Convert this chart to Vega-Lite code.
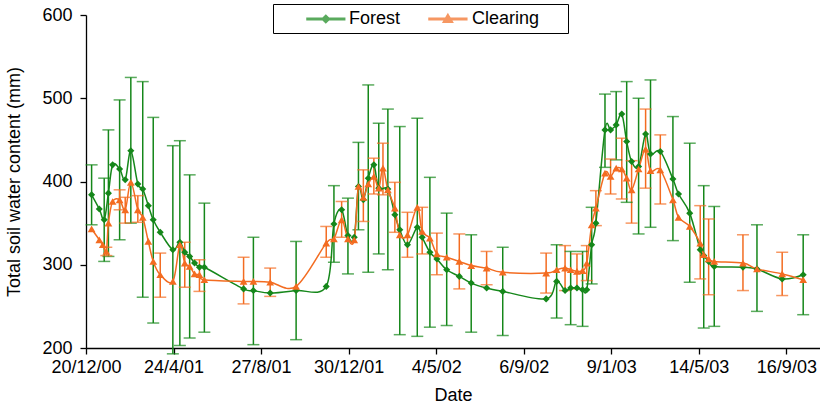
{
  "$schema": "https://vega.github.io/schema/vega-lite/v6.json",
  "width": 734,
  "height": 333,
  "autosize": {"type": "none"},
  "padding": {"left": 86, "top": 15, "right": 0, "bottom": 60},
  "background": "white",
  "config": {
    "view": {"stroke": null},
    "font": "Liberation Sans",
    "axis": {
      "domainColor": "black", "tickColor": "black", "labelColor": "black", "titleColor": "black",
      "labelFont": "Liberation Sans", "titleFont": "Liberation Sans",
      "labelFontSize": 18, "titleFontSize": 18, "titleFontWeight": "normal",
      "grid": false, "tickSize": 6, "domainWidth": 1.3, "tickWidth": 1.3
    }
  },
  "data": {"values": [
    {"date":"2000-12-28","series":"Forest","v":384,"lo":348,"hi":420},
    {"date":"2001-01-08","series":"Forest","v":367},
    {"date":"2001-01-15","series":"Forest","v":354,"lo":304,"hi":404},
    {"date":"2001-01-21","series":"Forest","v":386,"lo":310,"hi":462},
    {"date":"2001-01-27","series":"Forest","v":420},
    {"date":"2001-02-06","series":"Forest","v":415,"lo":330,"hi":498},
    {"date":"2001-02-14","series":"Forest","v":402},
    {"date":"2001-02-22","series":"Forest","v":437,"lo":350,"hi":525},
    {"date":"2001-03-04","series":"Forest","v":397},
    {"date":"2001-03-11","series":"Forest","v":391,"lo":261,"hi":520},
    {"date":"2001-03-19","series":"Forest","v":371},
    {"date":"2001-03-26","series":"Forest","v":354,"lo":230,"hi":477},
    {"date":"2001-04-05","series":"Forest","v":339},
    {"date":"2001-04-23","series":"Forest","v":318,"lo":193,"hi":443},
    {"date":"2001-05-03","series":"Forest","v":327,"lo":203,"hi":449},
    {"date":"2001-05-10","series":"Forest","v":315},
    {"date":"2001-05-17","series":"Forest","v":310,"lo":212,"hi":408},
    {"date":"2001-05-24","series":"Forest","v":302},
    {"date":"2001-05-31","series":"Forest","v":297},
    {"date":"2001-06-07","series":"Forest","v":297,"lo":219,"hi":374},
    {"date":"2001-08-02","series":"Forest","v":271},
    {"date":"2001-08-16","series":"Forest","v":269,"lo":204,"hi":333},
    {"date":"2001-09-09","series":"Forest","v":266},
    {"date":"2001-10-16","series":"Forest","v":269,"lo":210,"hi":328},
    {"date":"2001-11-28","series":"Forest","v":274},
    {"date":"2001-12-09","series":"Forest","v":349,"lo":303,"hi":395},
    {"date":"2001-12-20","series":"Forest","v":366},
    {"date":"2001-12-29","series":"Forest","v":335,"lo":289,"hi":380},
    {"date":"2002-01-07","series":"Forest","v":333},
    {"date":"2002-01-13","series":"Forest","v":394,"lo":342,"hi":447},
    {"date":"2002-01-20","series":"Forest","v":378},
    {"date":"2002-01-27","series":"Forest","v":404,"lo":291,"hi":516},
    {"date":"2002-02-04","series":"Forest","v":420},
    {"date":"2002-02-11","series":"Forest","v":392,"lo":313,"hi":470},
    {"date":"2002-02-24","series":"Forest","v":391,"lo":294,"hi":487},
    {"date":"2002-03-06","series":"Forest","v":360},
    {"date":"2002-03-13","series":"Forest","v":342,"lo":216,"hi":466},
    {"date":"2002-03-24","series":"Forest","v":324},
    {"date":"2002-04-07","series":"Forest","v":345,"lo":214,"hi":476},
    {"date":"2002-04-14","series":"Forest","v":333},
    {"date":"2002-04-25","series":"Forest","v":315,"lo":225,"hi":405},
    {"date":"2002-05-05","series":"Forest","v":307},
    {"date":"2002-05-19","series":"Forest","v":294,"lo":227,"hi":362},
    {"date":"2002-06-06","series":"Forest","v":286},
    {"date":"2002-06-23","series":"Forest","v":278,"lo":219,"hi":336},
    {"date":"2002-07-15","series":"Forest","v":272},
    {"date":"2002-08-07","series":"Forest","v":268,"lo":215,"hi":321},
    {"date":"2002-10-08","series":"Forest","v":259},
    {"date":"2002-10-23","series":"Forest","v":280,"lo":236,"hi":324},
    {"date":"2002-11-04","series":"Forest","v":269},
    {"date":"2002-11-12","series":"Forest","v":272,"lo":228,"hi":316},
    {"date":"2002-11-21","series":"Forest","v":272},
    {"date":"2002-11-29","series":"Forest","v":270,"lo":226,"hi":316},
    {"date":"2002-12-05","series":"Forest","v":270},
    {"date":"2002-12-12","series":"Forest","v":324,"lo":277,"hi":369},
    {"date":"2002-12-18","series":"Forest","v":350},
    {"date":"2002-12-31","series":"Forest","v":462,"lo":417,"hi":505},
    {"date":"2003-01-08","series":"Forest","v":462},
    {"date":"2003-01-16","series":"Forest","v":468,"lo":426,"hi":508},
    {"date":"2003-01-24","series":"Forest","v":481},
    {"date":"2003-01-31","series":"Forest","v":448,"lo":375,"hi":520},
    {"date":"2003-02-07","series":"Forest","v":424},
    {"date":"2003-02-17","series":"Forest","v":418,"lo":337,"hi":500},
    {"date":"2003-02-27","series":"Forest","v":457},
    {"date":"2003-03-06","series":"Forest","v":433,"lo":345,"hi":522},
    {"date":"2003-03-20","series":"Forest","v":436},
    {"date":"2003-04-07","series":"Forest","v":403,"lo":329,"hi":478},
    {"date":"2003-04-15","series":"Forest","v":385},
    {"date":"2003-05-01","series":"Forest","v":362,"lo":279,"hi":446},
    {"date":"2003-05-16","series":"Forest","v":318},
    {"date":"2003-05-21","series":"Forest","v":311,"lo":224,"hi":395},
    {"date":"2003-05-28","series":"Forest","v":304},
    {"date":"2003-06-05","series":"Forest","v":298,"lo":226,"hi":370},
    {"date":"2003-07-16","series":"Forest","v":297},
    {"date":"2003-08-05","series":"Forest","v":295,"lo":244,"hi":348},
    {"date":"2003-09-10","series":"Forest","v":283},
    {"date":"2003-10-10","series":"Forest","v":288,"lo":240,"hi":336},

    {"date":"2000-12-28","series":"Clearing","v":343},
    {"date":"2001-01-08","series":"Clearing","v":330},
    {"date":"2001-01-13","series":"Clearing","v":324},
    {"date":"2001-01-18","series":"Clearing","v":316,"lo":311,"hi":321},
    {"date":"2001-01-21","series":"Clearing","v":350},
    {"date":"2001-01-27","series":"Clearing","v":376},
    {"date":"2001-02-06","series":"Clearing","v":378,"lo":366,"hi":390},
    {"date":"2001-02-14","series":"Clearing","v":366,"lo":350,"hi":381},
    {"date":"2001-02-22","series":"Clearing","v":399},
    {"date":"2001-03-04","series":"Clearing","v":366,"lo":351,"hi":383},
    {"date":"2001-03-11","series":"Clearing","v":357},
    {"date":"2001-03-19","series":"Clearing","v":328},
    {"date":"2001-03-26","series":"Clearing","v":304},
    {"date":"2001-04-05","series":"Clearing","v":288,"lo":261,"hi":314},
    {"date":"2001-04-23","series":"Clearing","v":280},
    {"date":"2001-05-03","series":"Clearing","v":324},
    {"date":"2001-05-10","series":"Clearing","v":302,"lo":273,"hi":327},
    {"date":"2001-05-17","series":"Clearing","v":298},
    {"date":"2001-05-24","series":"Clearing","v":289},
    {"date":"2001-05-31","series":"Clearing","v":288,"lo":268,"hi":306},
    {"date":"2001-06-07","series":"Clearing","v":282},
    {"date":"2001-08-02","series":"Clearing","v":280,"lo":253,"hi":309},
    {"date":"2001-08-16","series":"Clearing","v":280},
    {"date":"2001-09-09","series":"Clearing","v":279,"lo":262,"hi":296},
    {"date":"2001-10-16","series":"Clearing","v":274},
    {"date":"2001-11-28","series":"Clearing","v":326,"lo":309,"hi":346},
    {"date":"2001-12-09","series":"Clearing","v":331},
    {"date":"2001-12-20","series":"Clearing","v":354,"lo":333,"hi":376},
    {"date":"2001-12-29","series":"Clearing","v":331},
    {"date":"2002-01-07","series":"Clearing","v":330},
    {"date":"2002-01-13","series":"Clearing","v":394},
    {"date":"2002-01-20","series":"Clearing","v":381,"lo":352,"hi":414},
    {"date":"2002-01-27","series":"Clearing","v":397},
    {"date":"2002-02-04","series":"Clearing","v":406,"lo":385,"hi":428},
    {"date":"2002-02-11","series":"Clearing","v":392},
    {"date":"2002-02-17","series":"Clearing","v":416,"lo":384,"hi":446},
    {"date":"2002-02-24","series":"Clearing","v":390},
    {"date":"2002-03-06","series":"Clearing","v":368,"lo":339,"hi":399},
    {"date":"2002-03-13","series":"Clearing","v":336},
    {"date":"2002-03-24","series":"Clearing","v":336,"lo":309,"hi":363},
    {"date":"2002-04-07","series":"Clearing","v":369},
    {"date":"2002-04-14","series":"Clearing","v":340,"lo":313,"hi":369},
    {"date":"2002-04-25","series":"Clearing","v":332},
    {"date":"2002-05-05","series":"Clearing","v":313,"lo":288,"hi":338},
    {"date":"2002-05-19","series":"Clearing","v":309},
    {"date":"2002-06-06","series":"Clearing","v":304,"lo":271,"hi":337},
    {"date":"2002-06-23","series":"Clearing","v":299},
    {"date":"2002-07-15","series":"Clearing","v":296,"lo":276,"hi":316},
    {"date":"2002-08-07","series":"Clearing","v":291},
    {"date":"2002-10-08","series":"Clearing","v":290,"lo":266,"hi":314},
    {"date":"2002-10-23","series":"Clearing","v":294},
    {"date":"2002-11-04","series":"Clearing","v":296,"lo":269,"hi":323},
    {"date":"2002-11-12","series":"Clearing","v":294},
    {"date":"2002-11-21","series":"Clearing","v":292,"lo":271,"hi":313},
    {"date":"2002-11-29","series":"Clearing","v":293},
    {"date":"2002-12-05","series":"Clearing","v":302,"lo":281,"hi":323},
    {"date":"2002-12-12","series":"Clearing","v":348},
    {"date":"2002-12-18","series":"Clearing","v":368,"lo":347,"hi":389},
    {"date":"2002-12-31","series":"Clearing","v":410},
    {"date":"2003-01-08","series":"Clearing","v":406,"lo":385,"hi":427},
    {"date":"2003-01-16","series":"Clearing","v":416},
    {"date":"2003-01-24","series":"Clearing","v":415,"lo":379,"hi":452},
    {"date":"2003-01-31","series":"Clearing","v":404},
    {"date":"2003-02-07","series":"Clearing","v":390,"lo":350,"hi":425},
    {"date":"2003-02-17","series":"Clearing","v":415},
    {"date":"2003-02-27","series":"Clearing","v":439,"lo":392,"hi":487},
    {"date":"2003-03-06","series":"Clearing","v":413},
    {"date":"2003-03-20","series":"Clearing","v":414,"lo":373,"hi":456},
    {"date":"2003-04-07","series":"Clearing","v":378},
    {"date":"2003-04-15","series":"Clearing","v":357},
    {"date":"2003-05-01","series":"Clearing","v":346},
    {"date":"2003-05-16","series":"Clearing","v":326,"lo":283,"hi":371},
    {"date":"2003-05-21","series":"Clearing","v":312},
    {"date":"2003-05-28","series":"Clearing","v":307,"lo":264,"hi":355},
    {"date":"2003-06-05","series":"Clearing","v":304},
    {"date":"2003-07-16","series":"Clearing","v":302,"lo":269,"hi":336},
    {"date":"2003-08-05","series":"Clearing","v":295},
    {"date":"2003-09-10","series":"Clearing","v":289,"lo":263,"hi":315},
    {"date":"2003-10-10","series":"Clearing","v":282}
  ]},
  "encoding": {
    "x": {
      "field": "date", "type": "temporal", "title": "Date",
      "scale": {"type": "utc", "domain": [{"year": 2000, "month": 12, "date": 20, "utc": true}, {"year": 2003, "month": 11, "date": 3, "utc": true}]},
      "axis": {
        "format": "%-d/%-m/%y", "labelOverlap": false, "labelFlush": false, "labelPadding": 4, "titlePadding": 10,
        "values": [
          {"year": 2000, "month": 12, "date": 20, "utc": true},
          {"year": 2001, "month": 4, "date": 24, "utc": true},
          {"year": 2001, "month": 8, "date": 27, "utc": true},
          {"year": 2001, "month": 12, "date": 30, "utc": true},
          {"year": 2002, "month": 5, "date": 4, "utc": true},
          {"year": 2002, "month": 9, "date": 6, "utc": true},
          {"year": 2003, "month": 1, "date": 9, "utc": true},
          {"year": 2003, "month": 5, "date": 14, "utc": true},
          {"year": 2003, "month": 9, "date": 16, "utc": true}
        ]
      }
    },
    "color": {
      "field": "series", "type": "nominal",
      "scale": {"domain": ["Forest", "Clearing"], "range": ["#15871a", "#f36c21"]},
      "legend": {
        "title": null, "orient": "none", "legendX": 187, "legendY": -11, "direction": "horizontal",
        "strokeColor": "black", "fillColor": "white", "padding": 5,
        "labelFontSize": 18, "labelFont": "Liberation Sans", "labelColor": "black",
        "symbolSize": 324, "symbolStrokeWidth": 1.5, "labelOffset": 51, "columnPadding": 0,
        "labelExpr": "datum.label + (datum.label == 'Clearing' ? '\u2002\u2002\u00a0\u200b' : '')"
      }
    }
  },
  "layer": [
    {
      "mark": {"type": "rule", "strokeWidth": 1.5},
      "encoding": {
        "y": {"field": "lo", "type": "quantitative", "title": "Total soil water content (mm)", "scale": {"domain": [200, 600], "nice": false}, "axis": {"values": [200, 300, 400, 500, 600], "labelPadding": 8, "titlePadding": 18}},
        "y2": {"field": "hi"}
      }
    },
    {
      "mark": {"type": "tick", "orient": "horizontal", "size": 12, "thickness": 1.5},
      "encoding": {"y": {"field": "lo", "type": "quantitative", "title": "Total soil water content (mm)"}}
    },
    {
      "mark": {"type": "tick", "orient": "horizontal", "size": 12, "thickness": 1.5},
      "encoding": {"y": {"field": "hi", "type": "quantitative", "title": "Total soil water content (mm)"}}
    },
    {
      "mark": {"type": "line", "interpolate": "cardinal", "strokeWidth": 1.5},
      "encoding": {"y": {"field": "v", "type": "quantitative", "title": "Total soil water content (mm)"}}
    },
    {
      "transform": [{"filter": "datum.series == 'Forest'"}],
      "mark": {"type": "point", "filled": true, "opacity": 1, "size": 50, "shape": "diamond"},
      "encoding": {"y": {"field": "v", "type": "quantitative", "title": "Total soil water content (mm)"}}
    },
    {
      "transform": [{"filter": "datum.series == 'Clearing'"}],
      "mark": {"type": "point", "filled": true, "opacity": 1, "size": 60, "shape": "triangle-up"},
      "encoding": {"y": {"field": "v", "type": "quantitative", "title": "Total soil water content (mm)"}}
    },
    {
      "transform": [{"filter": "datum.series == 'none'"}],
      "mark": {"type": "point", "filled": true, "opacity": 1},
      "encoding": {
        "y": {"field": "v", "type": "quantitative", "title": "Total soil water content (mm)"},
        "shape": {
          "field": "series", "type": "nominal",
          "scale": {"domain": ["Forest", "Clearing"], "range": [
            "M2.11,-0.085H6.3V0.085H2.11ZM4.2,-0.42L4.62,0L4.2,0.42L3.78,0Z",
            "M2.0,-0.085H6.2V0.085H2.0ZM4.1,-0.52L4.62,0.36H3.58Z"
          ]}
        }
      }
    }
  ]
}
